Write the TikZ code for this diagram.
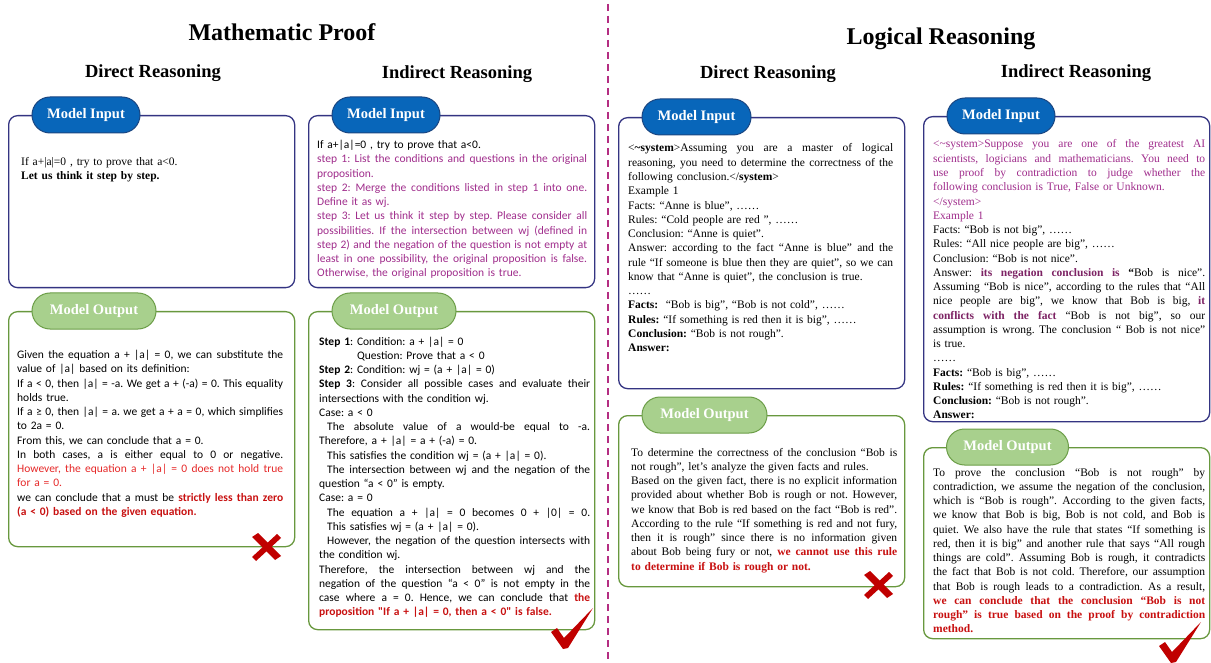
\documentclass[tikz,border=0pt]{standalone}
\usepackage{fontspec}
\setmainfont{Liberation Serif}
\newfontfamily\carlito{Carlito}
\definecolor{inborder}{RGB}{52,52,130}
\definecolor{outborder}{RGB}{104,152,62}
\definecolor{pillblue}{RGB}{8,102,186}
\definecolor{pillblueb}{RGB}{26,70,130}
\definecolor{pillgreen}{RGB}{168,208,141}
\definecolor{pillgreenb}{RGB}{108,158,72}
\definecolor{purp}{RGB}{160,45,140}
\definecolor{purpd}{RGB}{125,35,100}
\definecolor{redb}{RGB}{200,16,16}
\definecolor{redl}{RGB}{230,40,40}
\definecolor{markred}{RGB}{192,0,0}
\definecolor{divcol}{RGB}{180,45,130}
\newcommand{\jline}[1]{\leavevmode\hbox to\hsize{\spaceskip=\fontdimen2\font plus 3\fontdimen2\font minus 0.3\fontdimen2\font\relax #1}}
\newcommand{\hlred}[1]{\textcolor{redb}{\textbf{#1}}}
\newcommand{\hlpur}[1]{\textcolor{purpd}{\textbf{#1}}}
\tikzset{
  title/.style={anchor=base, inner sep=0, font=\fontsize{24}{28}\selectfont\bfseries},
  subtitle/.style={anchor=base, inner sep=0, font=\fontsize{18.5}{22}\selectfont\bfseries},
  inbox/.style={draw=inborder, line width=1.3pt, rounded corners=9pt, anchor=north west, fill=white, minimum width=286pt, inner sep=0},
  outbox/.style={draw=outborder, line width=1.3pt, rounded corners=9pt, anchor=north west, fill=white, minimum width=286pt, inner sep=0},
  pillin/.style={draw=pillblueb, fill=pillblue, line width=1pt, rounded corners=18pt, minimum height=36pt, inner sep=0, text=white, font=\fontsize{14.5}{16}\selectfont\bfseries},
  pillout/.style={draw=pillgreenb, fill=pillgreen, line width=1pt, rounded corners=18pt, minimum height=36pt, inner sep=0, text=white, font=\fontsize{14.5}{16}\selectfont\bfseries},
  sanstext/.style={anchor=base west, inner sep=0, align=left, font=\carlito\fontsize{11.5}{14.26}\selectfont\frenchspacing},
  seriftext/.style={anchor=base west, inner sep=0, align=left, font=\fontsize{11.5}{14.26}\selectfont\frenchspacing},
  divider/.style={draw=divcol, line width=1.4pt, dash pattern=on 7pt off 5pt},
  xmark/.pic={
    \fill[markred] (-14,-10) -- (-8,-14) -- (15,9) -- (9,13) -- cycle;
    \fill[markred] (11,-13) -- (15,-9) -- (-10,14) -- (-14,10) -- cycle;
  },
  tickmark/.pic={
    \fill[markred] (-14,-16) -- (-8,-20) -- (-1,-10) -- (28,-40) -- (3,0) -- (-2,1) -- cycle;
  }
}
\begin{document}
\begin{tikzpicture}[x=1pt,y=-1pt]
\useasboundingbox[fill=white] (0,0) rectangle (1211,663);

% headings
\node[title] (t1) at (282,41) {Mathematic Proof};
\node[title] (t2) at (941,45) {Logical Reasoning};
\node[subtitle] (s1) at (153,78) {Direct Reasoning};
\node[subtitle] (s2) at (457,79) {Indirect Reasoning};
\node[subtitle] (s3) at (768,79) {Direct Reasoning};
\node[subtitle] (s4) at (1076,78) {Indirect Reasoning};

% divider
\coordinate (dtop) at (608,4);
\coordinate (dbot) at (608,663);
\draw[divider] (dtop) -- (dbot);

% ---------- panel 1 ----------
\node[inbox, minimum height=172pt] (in1) at (8,115) {};
\node[pillin, minimum width=108pt] (pin1) at (86,115) {Model Input};
\node[seriftext, text width=260pt] (ti1) at (21,165.5) {If a+|a|=0 , try to prove that a<0.\\
\textbf{Let us think it step by step.}};

\node[outbox, minimum height=235pt] (out1) at (8,311) {};
\node[pillout, minimum width=124pt] (pout1) at (94,311) {Model Output};
\node[sanstext, text width=266pt] (to1) at (17,358.5) {%
\jline{Given the equation a + |a| = 0, we can substitute the}\\
value of |a| based on its definition:\\
\jline{If a < 0, then |a| = -a. We get a + (-a) = 0. This equality}\\
holds true.\\
\jline{If a ≥ 0, then |a| = a. we get a + a = 0, which simplifies}\\
to 2a = 0.\\
From this, we can conclude that a = 0.\\
\jline{In both cases, a is either equal to 0 or negative.}\\
\jline{\textcolor{redl}{However, the equation a + |a| = 0 does not hold true}}\\
\textcolor{redl}{for a = 0.}\\
\jline{we can conclude that a must be \hlred{strictly less than zero}}\\
\hlred{(a < 0) based on the given equation.}};
\pic at (266,547) {xmark};

% ---------- panel 2 ----------
\node[inbox, minimum height=172pt] (in2) at (308,115) {};
\node[pillin, minimum width=108pt] (pin2) at (386,115) {Model Input};
\node[sanstext, text width=270pt] (ti2) at (317,148.5) {%
If a+|a|=0 , try to prove that a<0.\\
\color{purp}%
\jline{step 1: List the conditions and questions in the original}\\
proposition.\\
\jline{step 2: Merge the conditions listed in step 1 into one.}\\
Define it as wj.\\
\jline{step 3: Let us think it step by step. Please consider all}\\
\jline{possibilities. If the intersection between wj (defined in}\\
\jline{step 2) and the negation of the question is not empty at}\\
\jline{least in one possibility, the original proposition is false.}\\
Otherwise, the original proposition is true.};

\node[outbox, minimum height=318pt] (out2) at (308,311) {};
\node[pillout, minimum width=124pt] (pout2) at (394,311) {Model Output};
\node[sanstext, text width=271pt] (to2) at (319,345) {%
\textbf{Step 1}: Condition: a + |a| = 0\\
\hspace*{38pt}Question: Prove that a < 0\\
\textbf{Step 2}: Condition: wj = (a + |a| = 0)\\
\jline{\textbf{Step 3}: Consider all possible cases and evaluate their}\\
intersections with the condition wj.\\
Case: a < 0\\
\jline{\hspace*{8pt}The absolute value of a would-be equal to -a.}\\
Therefore, a + |a| = a + (-a) = 0.\\
\hspace*{8pt}This satisfies the condition wj = (a + |a| = 0).\\
\jline{\hspace*{8pt}The intersection between wj and the negation of the}\\
question “a < 0” is empty.\\
Case: a = 0\\
\jline{\hspace*{8pt}The equation a + |a| = 0 becomes 0 + |0| = 0.}\\
\hspace*{8pt}This satisfies wj = (a + |a| = 0).\\
\jline{\hspace*{8pt}However, the negation of the question intersects with}\\
the condition wj.\\
\jline{Therefore, the intersection between wj and the}\\
\jline{negation of the question “a < 0” is not empty in the}\\
\jline{case where a = 0. Hence, we can conclude that \hlred{the}}\\
\hlred{proposition "If a + |a| = 0, then a < 0" is false.}};
\pic at (565,648) {tickmark};

% ---------- panel 3 ----------
\node[inbox, minimum height=271pt] (in3) at (618,117) {};
\node[pillin, minimum width=109pt] (pin3) at (696.5,117) {Model Input};
\node[seriftext, text width=265pt] (ti3) at (628,152) {%
\jline{<\textbf{\textasciitilde system}>Assuming you are a master of logical}\\
\jline{reasoning, you need to determine the correctness of the}\\
following conclusion.</\textbf{system}>\\
Example 1\\
Facts: “Anne is blue”, ……\\
Rules: “Cold people are red ”, ……\\
Conclusion: “Anne is quiet”.\\
\jline{Answer: according to the fact “Anne is blue” and the}\\
\jline{rule “If someone is blue then they are quiet”, so we can}\\
know that “Anne is quiet”, the conclusion is true.\\
……\\
\textbf{Facts:}\ \ “Bob is big”, “Bob is not cold”, ……\\
\textbf{Rules:} “If something is red then it is big”, ……\\
\textbf{Conclusion:} “Bob is not rough”.\\
\textbf{Answer:}};

\node[outbox, minimum height=171pt] (out3) at (618,415) {};
\node[pillout, minimum width=125pt] (pout3) at (704.5,415) {Model Output};
\node[seriftext, text width=266pt] (to3) at (631,456) {%
\jline{To determine the correctness of the conclusion “Bob is}\\
not rough”, let's analyze the given facts and rules.\\
\jline{Based on the given fact, there is no explicit information}\\
\jline{provided about whether Bob is rough or not. However,}\\
\jline{we know that Bob is red based on the fact “Bob is red”.}\\
\jline{According to the rule “If something is red and not fury,}\\
\jline{then it is rough” since there is no information given}\\
\jline{about Bob being fury or not, \hlred{we cannot use this rule}}\\
\hlred{to determine if Bob is rough or not.}};
\pic at (878,585) {xmark};

% ---------- panel 4 ----------
\node[inbox, minimum height=305pt] (in4) at (923,116) {};
\node[pillin, minimum width=108pt] (pin4) at (1001,116) {Model Input};
\node[seriftext, text width=272pt] (ti4) at (933,148) {%
\color{purp}%
\jline{<\textasciitilde system>Suppose you are one of the greatest AI}\\
\jline{scientists, logicians and mathematicians. You need to}\\
\jline{use proof by contradiction to judge whether the}\\
following conclusion is True, False or Unknown.\\
</system>\\
Example 1\\
\color{black}%
Facts: “Bob is not big”, ……\\
Rules: “All nice people are big”, ……\\
Conclusion: “Bob is not nice”.\\
\jline{Answer: \hlpur{its negation conclusion is} \textbf{“}Bob is nice”.}\\
\jline{Assuming “Bob is nice”, according to the rules that “All}\\
\jline{nice people are big”, we know that Bob is big, \hlpur{it}}\\
\jline{\hlpur{conflicts with the fact} “Bob is not big”, so our}\\
\jline{assumption is wrong. The conclusion “ Bob is not nice”}\\
is true.\\
……\\
\textbf{Facts:} “Bob is big”, ……\\
\textbf{Rules:} “If something is red then it is big”, ……\\
\textbf{Conclusion:} “Bob is not rough”.\\
\textbf{Answer:}};

\node[outbox, minimum height=191pt] (out4) at (923,447) {};
\node[pillout, minimum width=122pt] (pout4) at (1007.5,447) {Model Output};
\node[seriftext, text width=272pt] (to4) at (933,476) {%
\jline{To prove the conclusion “Bob is not rough” by}\\
\jline{contradiction, we assume the negation of the conclusion,}\\
\jline{which is “Bob is rough”. According to the given facts,}\\
\jline{we know that Bob is big, Bob is not cold, and Bob is}\\
\jline{quiet. We also have the rule that states “If something is}\\
\jline{red, then it is big” and another rule that says “All rough}\\
\jline{things are cold”. Assuming Bob is rough, it contradicts}\\
\jline{the fact that Bob is not cold. Therefore, our assumption}\\
\jline{that Bob is rough leads to a contradiction. As a result,}\\
\jline{\hlred{we can conclude that the conclusion “Bob is not}}\\
\jline{\hlred{rough” is true based on the proof by contradiction}}\\
\hlred{method.}};
\pic at (1173,662) {tickmark};
\end{tikzpicture}
\end{document}
